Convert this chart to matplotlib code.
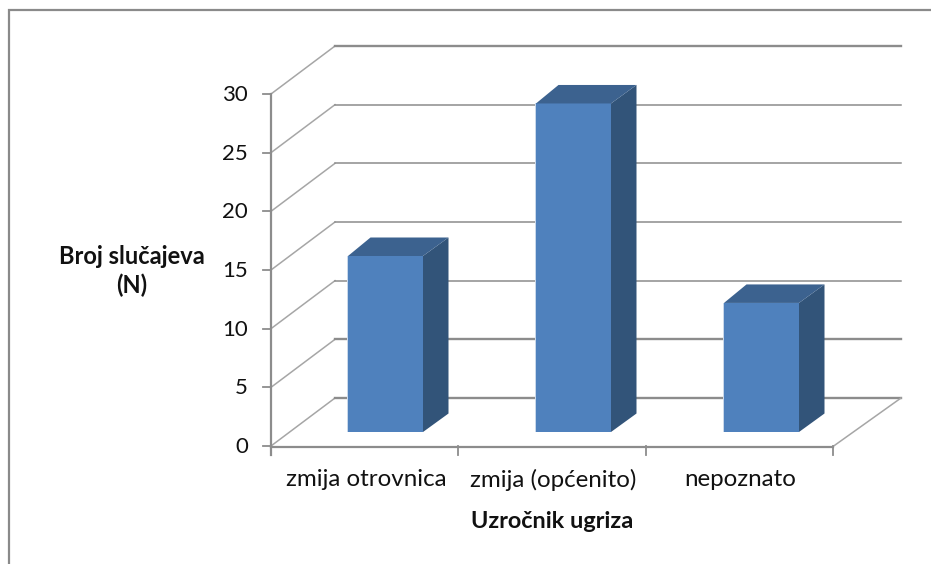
import matplotlib
matplotlib.use("Agg")
import matplotlib.pyplot as plt
from matplotlib.patches import Polygon, Rectangle

categories = ["zmija otrovnica", "zmija (općenito)", "nepoznato"]
values = [15, 28, 11]
yticks = [0, 5, 10, 15, 20, 25, 30]
xlabel = "Uzročnik ugriza"
ylabel = "Broj slučajeva\n(N)"

W, H = 931, 564
plt.rcParams['font.family'] = ['Lato', 'DejaVu Sans']
fig = plt.figure(figsize=(W/100, H/100), dpi=100)
ax = fig.add_axes([0, 0, 1, 1])
ax.set_xlim(0, W); ax.set_ylim(H, 0); ax.axis('off')

# outer frame
ax.plot([9, 9, 931], [564, 10, 10], color='#8a8a8a', lw=1.6, solid_joinstyle='miter')

x0, x1 = 271, 833
y0, ytop = 446, 94
dx, dy = 64, -48
unit = (y0 - ytop) / 30
def Y(v): return y0 - v * unit
grid = '#8c8c8c'
diag = '#a6a6a6'
thick = {0: 1.7, 5: 1.7, 30: 1.7}
for v in yticks:
    y = Y(v)
    ax.plot([x0, x0+dx], [y, y+dy], color=diag, lw=1.1, zorder=1)
    ax.plot([x0+dx, 901], [y+dy, y+dy], color=grid, lw=thick.get(v, 1.1), zorder=1)
    ax.plot([x0-8, x0], [y, y], color='#8c8c8c', lw=1.3)
    ax.text(248, y+1, str(v), ha='right', va='center', fontsize=16, color='#111111')
ax.plot([x0, x0], [ytop, y0+9], color='#8c8c8c', lw=1.6)
ax.plot([x0, x1], [y0+0.5, y0+0.5], color='#8c8c8c', lw=1.6, zorder=1)
ax.plot([x1, 901], [y0+0.5, y0+dy], color=diag, lw=1.1, zorder=1)

# bars
step = (x1 - x0) / 3
bw = 75
ddx, ddy = 25.5, -18.5
base = 432
bar_left = 348
bar_step = 188
for i, v in enumerate(values):
    l = bar_left + i*bar_step
    r = l + bw
    t = base - v*unit
    ax.add_patch(Rectangle((l-1, t), 1, base-t, fc='#c9d8ea', ec='none', zorder=3))
    ax.add_patch(Rectangle((l, t), bw, base-t, fc='#4f81bd', ec='none', zorder=3))
    ax.add_patch(Polygon([(r, t), (r+ddx, t+ddy), (r+ddx, base+ddy), (r, base)], fc='#325479', ec='none', zorder=3))
    ax.add_patch(Polygon([(l, t), (l+ddx-3, t+ddy), (r+ddx, t+ddy), (r, t)], fc='#3c628f', ec='none', zorder=3))

centers = [366, 553, 740]
for c, name in zip(centers, categories):
    ax.text(c, 480, name, ha='center', va='center', fontsize=17.4, color='#111111')
for i in range(4):
    xt = x0 + step*i
    ax.plot([xt, xt], [y0, y0+9], color='#8c8c8c', lw=1.3)

ax.text(552, 521, xlabel, ha='center', va='center', fontsize=16.9, fontweight='bold', color='#111111')
ax.text(132, 271, ylabel, ha='center', va='center', fontsize=17, fontweight='bold', color='#111111', linespacing=1.3)
fig.savefig('out.png', dpi=100)
